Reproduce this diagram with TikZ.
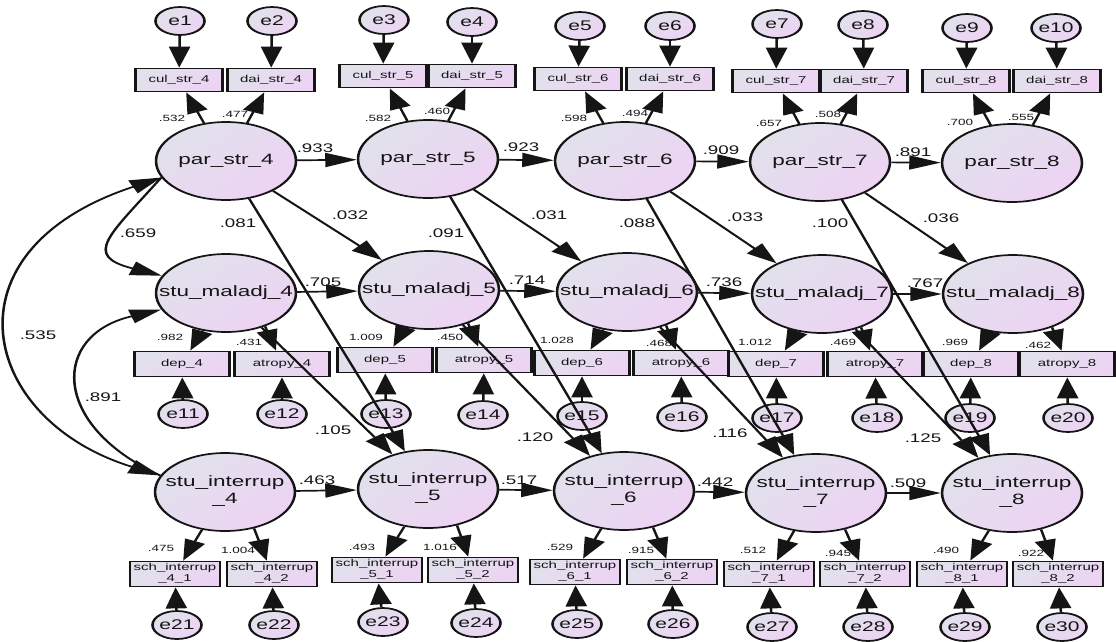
\documentclass[tikz,border=0pt]{standalone}
\usepackage{fontspec}
\setmainfont{Liberation Sans}
\usetikzlibrary{shapes.geometric,arrows.meta}
\definecolor{shA}{HTML}{E1E1EC}
\definecolor{shB}{HTML}{EDD3F3}
\definecolor{inkc}{HTML}{151515}
\newcommand{\zw}[1]{\makebox[0pt]{#1}}
\newcommand{\twol}[2]{\makebox[0pt]{\begin{tabular}{@{}c@{}}#1\\#2\end{tabular}}}
\tikzset{
  shd/.style={left color=shA, right color=shB, shading angle=45},
  lat/.style={ellipse, draw=inkc, line width=1.7pt, shd, minimum width=93.3pt, minimum height=78pt, inner sep=0pt, text=inkc, font=\fontsize{15}{17}\selectfont},
  err/.style={ellipse, draw=inkc, line width=1.7pt, shd, minimum width=32.7pt, minimum height=28pt, inner sep=0pt, text=inkc, font=\fontsize{14}{16}\selectfont},
  obsT/.style={rectangle, draw=inkc, line width=1.8pt, shd, minimum width=58pt, minimum height=23pt, inner sep=0pt, text=inkc, font=\fontsize{10}{11}\selectfont},
  obsM/.style={obsT, minimum width=63pt, minimum height=25pt},
  obsB/.style={obsT, minimum width=60pt, minimum height=25pt},
  coef/.style={inner sep=0pt, text=inkc, font=\fontsize{12.5}{14}\selectfont},
  load/.style={inner sep=0pt, text=inkc, font=\fontsize{9}{10}\selectfont},
  arr/.style={draw=inkc, line width=1.7pt, -{Triangle[length=21pt,width=14pt]}},
  darr/.style={draw=inkc, line width=1.7pt, {Triangle[length=21pt,width=14pt]}-{Triangle[length=21pt,width=14pt]}},
}
\begin{document}
\begin{tikzpicture}
\useasboundingbox (0,0) rectangle (1116pt,-641pt);
\begin{scope}[transform canvas={xscale=1.5}, x={(0.666667pt,0pt)}, y={(0pt,-1pt)}]
% latent variables
\node[lat] (p4) at (226,161) {\zw{par\_str\_4}};
\node[lat] (p5) at (428,159) {\zw{par\_str\_5}};
\node[lat] (p6) at (625,161) {\zw{par\_str\_6}};
\node[lat] (p7) at (820,162) {\zw{par\_str\_7}};
\node[lat] (p8) at (1012,163) {\zw{par\_str\_8}};
\node[lat] (m4) at (226,293) {\zw{stu\_maladj\_4}};
\node[lat] (m5) at (429,290) {\zw{stu\_maladj\_5}};
\node[lat] (m6) at (627,292) {\zw{stu\_maladj\_6}};
\node[lat] (m7) at (822,294) {\zw{stu\_maladj\_7}};
\node[lat] (m8) at (1013,294) {\zw{stu\_maladj\_8}};
\node[lat] (i4) at (225,492) {\twol{stu\_interrup}{\_4}};
\node[lat] (i5) at (428,489) {\twol{stu\_interrup}{\_5}};
\node[lat] (i6) at (624,491) {\twol{stu\_interrup}{\_6}};
\node[lat] (i7) at (816,493) {\twol{stu\_interrup}{\_7}};
\node[lat] (i8) at (1012,493) {\twol{stu\_interrup}{\_8}};
% observed, top
\node[obsT] (c4) at (179,80) {\zw{cul\_str\_4}};
\node[obsT] (d4) at (271,80) {\zw{dai\_str\_4}};
\node[obsT] (c5) at (383,76) {\zw{cul\_str\_5}};
\node[obsT] (d5) at (472,76) {\zw{dai\_str\_5}};
\node[obsT] (c6) at (578,79) {\zw{cul\_str\_6}};
\node[obsT] (d6) at (670,79) {\zw{dai\_str\_6}};
\node[obsT] (c7) at (776,81) {\zw{cul\_str\_7}};
\node[obsT] (d7) at (864,81) {\zw{dai\_str\_7}};
\node[obsT] (c8) at (966,81) {\zw{cul\_str\_8}};
\node[obsT] (d8) at (1057,81) {\zw{dai\_str\_8}};
% observed, middle
\node[obsM] (dep4) at (182,364) {\zw{dep\_4}};
\node[obsM] (atr4) at (282,364) {\zw{atropy\_4}};
\node[obsM] (dep5) at (385,360) {\zw{dep\_5}};
\node[obsM] (atr5) at (484,360) {\zw{atropy\_5}};
\node[obsM] (dep6) at (582,363) {\zw{dep\_6}};
\node[obsM] (atr6) at (681,363) {\zw{atropy\_6}};
\node[obsM] (dep7) at (776,364) {\zw{dep\_7}};
\node[obsM] (atr7) at (875,364) {\zw{atropy\_7}};
\node[obsM] (dep8) at (971,364) {\zw{dep\_8}};
\node[obsM] (atr8) at (1067,364) {\zw{atropy\_8}};
% observed, bottom
\node[obsB] (s41) at (175,574) {\twol{sch\_interrup}{\_4\_1}};
\node[obsB] (s42) at (272,574) {\twol{sch\_interrup}{\_4\_2}};
\node[obsB] (s51) at (377,570) {\twol{sch\_interrup}{\_5\_1}};
\node[obsB] (s52) at (473,570) {\twol{sch\_interrup}{\_5\_2}};
\node[obsB] (s61) at (575,572) {\twol{sch\_interrup}{\_6\_1}};
\node[obsB] (s62) at (672,572) {\twol{sch\_interrup}{\_6\_2}};
\node[obsB] (s71) at (769,574) {\twol{sch\_interrup}{\_7\_1}};
\node[obsB] (s72) at (865,574) {\twol{sch\_interrup}{\_7\_2}};
\node[obsB] (s81) at (962,574) {\twol{sch\_interrup}{\_8\_1}};
\node[obsB] (s82) at (1058,574) {\twol{sch\_interrup}{\_8\_2}};
% error terms
\foreach \n/\x/\y in {e1/180/21, e2/272/21, e3/384/20, e4/472/22, e5/580/26, e6/670/26, e7/777/24, e8/863/25, e9/967/28, e10/1056/28,
  e11/183/414, e12/282/414, e13/386/414, e14/483/415, e15/582/416, e16/682/417, e17/777/418, e18/877/418, e19/970/418, e20/1068/418,
  e21/177/625, e22/274/625, e23/383/622, e24/476/623, e25/577/624, e26/673/624, e27/772/627, e28/868/627, e29/965/627, e30/1062/627}
  \node[err] (\n) at (\x,\y) {\zw{\n}};
% error arrows
\foreach \e/\b in {e1/c4, e2/d4, e3/c5, e4/d5, e5/c6, e6/d6, e7/c7, e8/d7, e9/c8, e10/d8,
  e11/dep4, e12/atr4, e13/dep5, e14/atr5, e15/dep6, e16/atr6, e17/dep7, e18/atr7, e19/dep8, e20/atr8,
  e21/s41, e22/s42, e23/s51, e24/s52, e25/s61, e26/s62, e27/s71, e28/s72, e29/s81, e30/s82}
  \draw[arr] (\e) -- (\b);
% loadings
\foreach \k in {4,...,8} {
  \draw[arr] (p\k) -- (c\k);
  \draw[arr] (p\k) -- (d\k);
  \draw[arr] (m\k) -- (dep\k);
  \draw[arr] (m\k.-52) -- (atr\k);
  \draw[arr] (i\k) -- (s\k1);
  \draw[arr] (i\k.-62) -- (s\k2);
}
% structural paths
\foreach \a/\b in {4/5,5/6,6/7,7/8} {
  \draw[arr] (p\a) -- (p\b);
  \draw[arr] (m\a) -- (m\b);
  \draw[arr] (i\a) -- (i\b);
  \draw[arr] (p\a) -- (m\b);
  \draw[arr] (p\a) -- (i\b);
  \draw[arr] (m\a) -- (i\b);
}
% covariances
\draw[darr] (p4.201) .. controls +(-222,73) and +(-180,-55) .. (i4.159);
\draw[arr] (p4.201) .. controls +(-52,58) and +(-80,-20) .. (m4.158);
\draw[arr] (i4.159) .. controls +(-110,-50) and +(-110,25) .. (m4.201);
% coefficient labels
\foreach \n/\x/\y/\t in {h1/315/148/.933, h2/521/147/.923, h3/721/150/.909, h4/913/152/.891,
  h5/323/282/.705, h6/527/280/.714, h7/724/282/.736, h8/925/283/.767,
  h9/317/480/.463, h10/519/480/.517, h11/715/482/.442, h12/908/483/.509,
  x1/350/215/.032, x2/549/215/.031, x3/745/217/.033, x4/941/218/.036,
  x5/238/223/.081, x6/446/233/.091, x7/637/223/.088, x8/830/223/.100,
  x9/333/430/.105, x10/535/437/.120, x11/730/433/.116, x12/923/438/.125,
  v1/138/233/.659, v2/38/335/.535, v3/103/397/.891}
  \node[coef] (\n) at (\x,\y) {\t};
\foreach \n/\x/\y/\t in {ld1/172/118/.532, ld2/235/114/.477, ld3/378/118/.582, ld4/437/111/.460, ld5/574/118/.598,
  ld6/635/113/.494, ld7/769/123/.657, ld8/828/114/.508, ld9/960/122/.700, ld10/1021/117/.555,
  ld11/170/337/.982, ld12/249/342/.431, ld13/366/337/1.009, ld14/450/337/.450, ld15/557/340/1.028,
  ld16/659/343/.468, ld17/755/342/1.012, ld18/843/342/.469, ld19/955/342/.969, ld20/1038/345/.462,
  ld21/161/548/.475, ld22/238/550/1.004, ld23/362/547/.493, ld24/440/547/1.016, ld25/560/547/.529,
  ld26/641/550/.915, ld27/753/550/.512, ld28/838/553/.945, ld29/946/550/.490, ld30/1031/553/.922}
  \node[load] (\n) at (\x,\y) {\t};
\end{scope}
\end{tikzpicture}
\end{document}
